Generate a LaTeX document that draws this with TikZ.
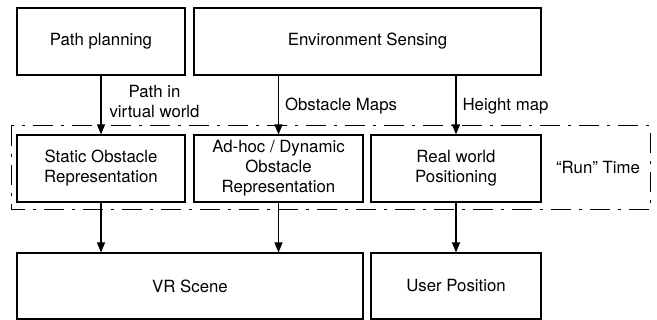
\documentclass[tikz,border=0pt]{standalone}
\usepackage{fontspec}
\setmainfont{TeX Gyre Heros}
\usetikzlibrary{arrows.meta}

\begin{document}
\begin{tikzpicture}[x=1pt,y=-1pt,
    font=\fontsize{16.8}{20}\selectfont,
    blk/.style={draw,line width=1.1pt,minimum height=67pt,inner sep=0pt,align=center},
    flow/.style={line width=1.1pt,-{Triangle[length=10pt,width=8pt]}},
    lbl/.style={inner sep=0pt,align=center}]
    \useasboundingbox (0,0) rectangle (657,320);
    \node[blk,minimum width=168pt] (plan) at (101,41.5) {Path planning};
    \node[blk,minimum width=347pt] (sense) at (367.5,41.5) {Environment Sensing};
    \node[blk,minimum width=168pt] (static) at (101,168.5) {Static Obstacle\\Representation};
    \node[blk,minimum width=169pt] (adhoc) at (278.5,168.5) {Ad-hoc / Dynamic\\Obstacle\\Representation};
    \node[blk,minimum width=170pt] (real) at (456,168.5) {Real world\\Positioning};
    \node[blk,minimum width=346pt,minimum height=66pt] (vr) at (190,286) {VR Scene};
    \node[blk,minimum width=170pt,minimum height=66pt] (user) at (456,286) {User Position};
    \draw[line width=1pt,dash pattern=on 20pt off 8pt on 3pt off 8pt]
      (11,126) rectangle (650,210);
    \node[lbl] (run) at (598,168) {“Run” Time};
    \draw[flow] (plan) -- (static) node[lbl,midway,right=8pt,yshift=3pt] {Path in\\virtual world};
    \draw[flow] (sense.south -| adhoc) -- (adhoc) node[lbl,midway,right=6pt,yshift=-1pt] {Obstacle Maps};
    \draw[flow] (sense.south -| real) -- (real) node[lbl,midway,right=6pt,yshift=-1pt] {Height map};
    \draw[flow] (static) -- (static |- vr.north);
    \draw[flow] (adhoc) -- (adhoc |- vr.north);
    \draw[flow] (real) -- (user);
  \end{tikzpicture}
\end{document}
